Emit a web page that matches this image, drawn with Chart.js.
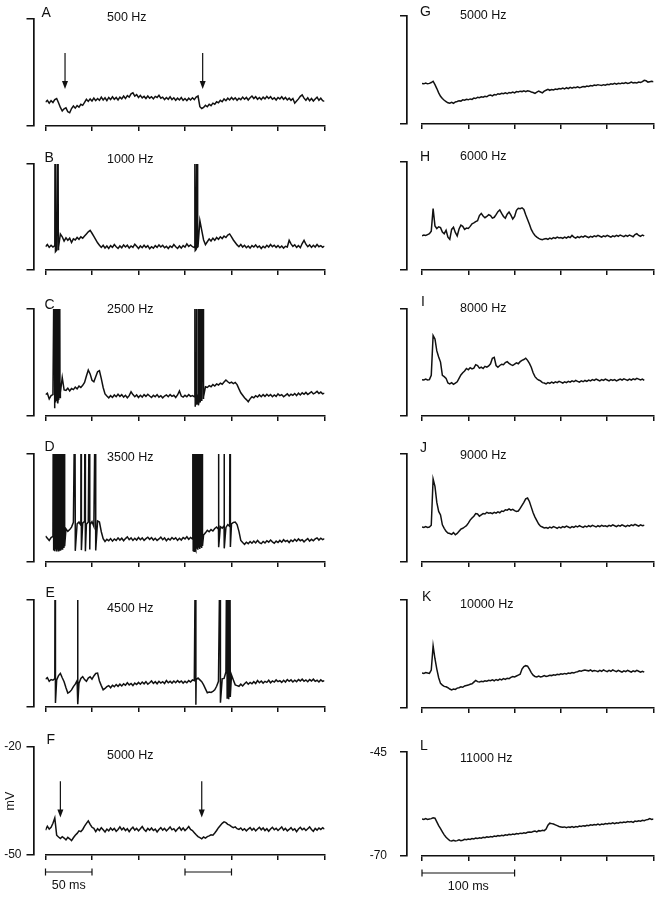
<!DOCTYPE html>
<html>
<head>
<meta charset="utf-8">
<script src="https://cdn.jsdelivr.net/npm/chart.js@4.4.1/dist/chart.umd.min.js"></script>
<style>
  body { margin: 0; background: #fff; width: 660px; height: 899px; position: relative; overflow: hidden; }
  canvas { position: absolute; }
</style>
</head>
<body>
<script>
// ---- data (mV, sampled every 2 ms) ----
const sampleStep = 2;
const spikePeak = 0;
const leftRange = [-50, -20];
const rightRange = [-70, -45];
const leftLetters = ['A', 'B', 'C', 'D', 'E', 'F'];
const rightLetters = ['G', 'H', 'I', 'J', 'K', 'L'];
const leftFreqs = ['500 Hz', '1000 Hz', '2500 Hz', '3500 Hz', '4500 Hz', '5000 Hz'];
const rightFreqs = ['5000 Hz', '6000 Hz', '8000 Hz', '9000 Hz', '10000 Hz', '11000 Hz'];
const arrowTimesA = [21, 169];
const arrowTimesF = [16, 168];
const arrowSpan = [-29.5, -39.6];
const scaleBarsF = [[0, 50], [150, 200]];
const scaleBarsL = [[0, 100]];

const traceA = [
  -43.3,-42.8,-43.6,-42.9,-43.4,-42.6,-42.3,-43.5,-44.8,-45.8,
  -45.2,-44.9,-46.0,-46.3,-45.1,-44.4,-45.0,-44.3,-44.7,-43.9,
  -44.2,-43.4,-42.5,-43.1,-42.4,-43.0,-42.2,-42.9,-42.3,-42.8,
  -41.9,-42.7,-42.1,-42.9,-42.0,-42.6,-41.8,-42.5,-42.0,-42.7,
  -41.9,-42.4,-41.6,-42.3,-41.5,-41.9,-41.0,-40.7,-41.6,-41.2,
  -42.0,-41.4,-42.1,-41.7,-42.3,-41.6,-42.2,-41.8,-42.4,-41.7,
  -42.0,-41.4,-42.2,-41.9,-42.6,-42.0,-42.5,-41.8,-42.6,-42.1,
  -42.8,-42.2,-42.7,-42.0,-42.8,-42.3,-42.9,-42.2,-42.7,-42.1,
  -42.6,-41.9,-41.6,-44.6,-45.1,-44.8,-44.2,-44.6,-43.9,-44.3,
  -43.6,-43.9,-43.2,-43.5,-42.8,-43.2,-42.4,-42.9,-42.2,-42.7,
  -42.0,-42.6,-42.1,-42.8,-42.2,-42.6,-41.9,-42.5,-42.0,-42.7,
  -42.1,-41.6,-42.3,-41.8,-42.5,-42.0,-42.6,-41.9,-42.4,-41.7,
  -42.3,-41.8,-42.5,-42.1,-42.7,-42.0,-42.4,-41.8,-42.5,-42.0,
  -42.7,-42.2,-42.8,-42.3,-43.6,-43.0,-42.4,-41.7,-41.3,-42.2,
  -42.8,-42.1,-42.9,-42.3,-43.0,-42.4,-41.9,-42.8,-42.2,-42.9,
  -43.1
];
const traceB = [
  -43.4,-42.8,-43.6,-43.0,-43.5,-43.1,-44.4,-43.6,-39.8,-40.6,
  -41.8,-40.9,-41.6,-41.0,-42.2,-41.2,-41.5,-40.8,-41.3,-40.6,
  -41.0,-40.4,-39.8,-39.2,-38.8,-39.6,-40.5,-41.4,-42.3,-43.0,
  -43.6,-43.0,-43.8,-43.2,-43.9,-43.1,-43.6,-42.8,-43.4,-43.9,
  -43.2,-43.7,-42.9,-43.5,-43.0,-43.8,-43.2,-43.6,-42.7,-43.3,
  -43.9,-43.2,-43.7,-43.0,-43.6,-43.1,-44.0,-43.4,-43.8,-43.1,
  -43.6,-42.9,-43.5,-43.0,-43.7,-43.3,-43.9,-43.2,-43.6,-42.8,
  -43.4,-43.9,-43.2,-43.8,-43.1,-43.5,-42.6,-43.3,-42.9,-43.4,
  -43.6,-44.2,-43.4,-36.0,-38.8,-41.5,-42.8,-42.0,-41.2,-41.8,
  -41.0,-41.6,-40.8,-41.3,-40.6,-41.1,-40.4,-40.8,-40.1,-39.8,
  -40.6,-41.5,-42.2,-42.9,-43.4,-42.8,-43.5,-43.0,-43.7,-43.2,
  -43.8,-43.1,-43.5,-42.9,-43.6,-43.2,-43.9,-43.3,-43.7,-43.0,
  -43.5,-42.8,-43.4,-43.0,-43.6,-43.1,-43.7,-43.2,-43.8,-43.3,
  -43.5,-41.6,-42.6,-43.3,-42.9,-43.6,-43.1,-43.7,-42.5,-41.6,
  -42.7,-43.4,-42.9,-43.6,-43.0,-43.5,-42.8,-43.4,-43.1,-43.6,
  -43.2
];
const traceC = [
  -44.0,-43.6,-45.2,-44.3,-44.0,-44.6,-44.8,-44.2,-43.5,-39.2,
  -42.7,-42.8,-42.2,-43.0,-42.3,-42.6,-41.9,-42.4,-41.6,-42.0,
  -41.4,-40.6,-38.8,-37.1,-38.2,-40.0,-40.4,-39.0,-37.6,-37.3,
  -39.5,-42.0,-43.8,-44.4,-44.9,-44.3,-44.8,-44.1,-44.6,-43.9,
  -44.5,-44.0,-44.7,-44.2,-44.9,-44.3,-43.2,-44.0,-44.6,-44.1,
  -44.8,-44.2,-44.7,-44.0,-44.5,-43.9,-44.4,-44.8,-44.2,-44.6,
  -44.0,-44.7,-44.3,-44.9,-44.4,-44.1,-44.6,-44.0,-44.5,-44.2,
  -44.8,-44.1,-43.0,-44.4,-44.7,-44.2,-44.6,-44.0,-44.5,-44.3,
  -44.6,-44.0,-44.4,-44.8,-44.3,-44.6,-41.8,-42.0,-41.5,-41.8,
  -41.2,-41.6,-41.0,-41.3,-40.8,-41.1,-40.5,-39.9,-40.4,-40.8,
  -40.5,-40.9,-40.6,-41.2,-42.4,-43.5,-44.2,-44.9,-45.4,-46.0,
  -45.2,-44.6,-44.9,-44.3,-44.7,-44.1,-44.6,-44.0,-44.5,-43.9,
  -44.4,-44.0,-44.6,-44.1,-44.5,-43.8,-44.3,-44.0,-44.6,-44.2,
  -43.8,-44.4,-43.9,-44.2,-43.7,-44.3,-43.6,-44.1,-43.5,-43.9,
  -43.4,-44.0,-43.6,-43.2,-43.8,-43.5,-43.1,-43.7,-43.3,-43.8,
  -43.6
];
const traceD = [
  -42.8,-43.4,-44.0,-43.2,-42.9,-43.5,-42.6,-43.0,-42.2,-41.8,
  -41.2,-40.8,-41.5,-41.0,-40.3,-39.0,-38.6,-39.4,-38.9,-39.8,
  -39.2,-38.7,-39.5,-38.9,-39.6,-38.8,-40.1,-39.3,-38.6,-38.9,
  -41.6,-43.5,-44.3,-43.7,-44.1,-43.5,-44.2,-43.6,-44.0,-43.3,
  -43.9,-43.4,-44.1,-43.5,-43.0,-43.8,-43.3,-44.0,-43.4,-43.9,
  -43.2,-43.8,-43.3,-44.0,-43.5,-43.1,-43.7,-43.2,-43.9,-43.4,
  -44.0,-43.6,-43.1,-43.8,-43.3,-44.1,-43.5,-43.9,-43.2,-43.7,
  -43.3,-44.0,-43.4,-43.9,-43.2,-43.6,-43.0,-43.7,-43.2,-43.6,
  -43.4,-43.0,-42.6,-42.2,-41.8,-42.5,-41.9,-41.2,-41.6,-41.0,
  -41.4,-40.7,-40.3,-40.9,-40.2,-40.6,-39.9,-40.4,-39.6,-40.1,
  -39.4,-39.0,-38.9,-39.6,-41.5,-44.0,-44.6,-45.1,-44.5,-44.9,
  -44.3,-44.8,-44.2,-44.7,-44.0,-44.6,-44.9,-44.3,-44.7,-44.1,
  -44.5,-43.9,-44.4,-44.8,-44.2,-44.6,-44.0,-44.5,-43.8,-44.3,
  -44.0,-44.6,-43.9,-44.3,-43.7,-44.2,-43.6,-44.1,-43.8,-44.4,
  -43.9,-43.5,-44.2,-43.7,-44.1,-43.6,-43.3,-43.9,-43.4,-43.8,
  -43.5
];
const traceE = [
  -42.2,-41.8,-42.8,-42.3,-42.5,-42.0,-42.4,-41.2,-40.6,-41.8,
  -42.9,-44.6,-46.1,-45.8,-45.2,-44.3,-43.6,-42.6,-43.3,-42.0,
  -41.5,-42.3,-42.8,-41.9,-41.5,-42.2,-41.3,-40.6,-40.5,-42.7,
  -44.0,-45.2,-44.8,-44.3,-44.0,-44.6,-43.9,-44.3,-43.7,-44.2,
  -43.6,-44.1,-43.5,-43.9,-43.2,-43.8,-43.4,-44.0,-43.3,-43.7,
  -43.1,-43.6,-43.0,-43.5,-42.9,-43.6,-43.2,-42.7,-43.4,-42.9,
  -43.5,-42.8,-43.3,-42.9,-43.4,-42.6,-43.2,-42.8,-43.3,-42.7,
  -43.2,-42.6,-43.1,-42.7,-43.3,-42.8,-43.2,-42.6,-43.0,-42.4,
  -42.6,-42.3,-41.9,-42.4,-42.9,-43.8,-44.9,-46.0,-45.8,-45.9,
  -45.6,-45.2,-44.2,-42.8,-41.7,-42.1,-42.0,-40.2,-40.6,-40.8,
  -41.0,-42.4,-43.8,-44.0,-44.2,-43.6,-44.1,-43.5,-43.0,-43.6,
  -43.1,-43.5,-42.9,-43.4,-42.6,-43.2,-42.7,-43.3,-42.8,-43.1,
  -42.5,-43.2,-42.7,-43.0,-42.4,-42.9,-42.6,-43.1,-42.5,-43.0,
  -42.3,-42.8,-42.4,-43.0,-42.5,-42.9,-42.3,-42.7,-42.2,-42.8,
  -42.4,-42.9,-42.3,-42.7,-42.2,-42.8,-42.5,-43.0,-42.4,-42.8,
  -42.6
];
const traceF = [
  -43.1,-42.0,-42.8,-42.3,-41.2,-39.7,-44.5,-45.0,-45.4,-44.9,
  -45.3,-45.8,-45.1,-45.5,-46.0,-45.2,-44.5,-44.0,-43.3,-43.5,
  -42.9,-42.0,-41.2,-40.5,-41.5,-42.3,-42.6,-43.5,-42.7,-43.2,
  -42.4,-43.0,-43.6,-42.8,-43.3,-42.5,-43.1,-42.6,-43.4,-42.9,
  -42.2,-43.0,-42.5,-43.2,-42.7,-43.5,-42.8,-42.3,-43.1,-42.6,
  -43.3,-42.7,-42.1,-42.9,-43.4,-42.6,-43.1,-42.5,-43.2,-42.8,
  -43.6,-42.9,-42.4,-43.1,-42.6,-43.3,-42.8,-42.2,-43.0,-42.7,
  -43.4,-42.8,-42.3,-43.1,-42.5,-43.2,-42.7,-42.1,-42.9,-43.2,
  -43.8,-44.4,-44.9,-45.2,-45.5,-45.0,-45.3,-44.9,-44.7,-44.4,
  -44.5,-43.9,-43.2,-42.4,-41.8,-41.2,-40.8,-41.0,-41.5,-41.7,
  -42.1,-42.4,-42.2,-42.7,-42.9,-42.5,-43.1,-42.7,-43.3,-42.8,
  -42.4,-43.1,-42.6,-43.3,-42.8,-42.3,-43.0,-42.5,-43.2,-42.7,
  -43.4,-42.8,-42.3,-43.0,-42.6,-43.2,-42.7,-42.2,-43.1,-42.6,
  -43.3,-42.9,-42.4,-43.1,-42.7,-43.5,-42.8,-42.3,-43.0,-42.6,
  -43.2,-42.7,-42.2,-42.9,-43.4,-42.6,-43.1,-42.5,-42.9,-42.4,
  -42.8
];
const traceG = [
  -60.6,-60.7,-60.5,-60.7,-60.6,-60.4,-60.1,-60.9,-61.8,-62.8,
  -63.6,-64.1,-64.5,-64.8,-65.1,-65.2,-65.0,-65.2,-64.9,-64.8,
  -64.6,-64.7,-64.4,-64.5,-64.3,-64.4,-64.2,-64.3,-64.0,-64.1,
  -63.8,-63.9,-63.7,-63.8,-63.6,-63.7,-63.4,-63.3,-63.5,-63.2,
  -63.3,-63.0,-63.1,-62.9,-63.0,-62.8,-63.0,-62.7,-62.8,-62.6,
  -62.8,-62.5,-62.6,-62.4,-62.5,-62.3,-62.5,-62.3,-62.4,-62.6,
  -62.7,-62.9,-62.6,-62.4,-62.6,-62.8,-62.4,-62.2,-62.0,-62.2,
  -62.0,-62.1,-61.9,-62.0,-61.8,-61.9,-61.7,-61.9,-61.6,-61.8,
  -61.5,-61.7,-61.5,-61.6,-61.4,-61.6,-61.5,-61.3,-61.4,-61.2,
  -61.3,-61.1,-61.2,-61.0,-61.1,-60.9,-61.0,-61.1,-60.9,-61.0,
  -60.8,-60.9,-60.7,-60.8,-60.6,-60.8,-60.6,-60.7,-60.5,-60.6,
  -60.4,-60.6,-60.5,-60.3,-60.5,-60.4,-60.5,-60.3,-60.4,-60.2,
  -59.9,-60.0,-60.3,-60.2,-60.1,-60.2
];
const traceH = [
  -62.1,-61.9,-62.0,-61.8,-61.6,-61.0,-55.8,-59.8,-60.4,-60.0,
  -60.2,-61.2,-61.6,-60.8,-62.4,-62.9,-60.6,-60.1,-61.3,-62.1,
  -60.5,-59.6,-59.9,-60.6,-60.3,-60.4,-59.9,-59.3,-59.1,-58.8,
  -58.6,-57.4,-56.9,-57.5,-57.9,-57.6,-57.2,-57.4,-58.0,-57.8,
  -57.2,-56.5,-56.1,-56.9,-57.6,-58.0,-57.1,-56.6,-57.3,-58.2,
  -57.6,-56.2,-55.7,-55.8,-55.6,-56.0,-57.2,-58.3,-59.4,-60.6,
  -61.4,-62.0,-62.4,-62.7,-62.9,-63.0,-62.8,-62.7,-62.9,-62.6,
  -62.8,-62.5,-62.7,-62.4,-62.6,-62.5,-62.7,-62.4,-62.6,-62.3,
  -62.5,-62.0,-62.4,-62.6,-62.3,-62.5,-62.2,-62.4,-62.1,-62.3,
  -62.5,-62.2,-62.4,-62.1,-62.3,-62.0,-62.2,-62.4,-62.1,-62.3,
  -62.0,-62.2,-62.4,-62.1,-62.3,-62.0,-62.2,-61.9,-62.1,-62.3,
  -62.0,-62.2,-61.9,-62.1,-62.3,-61.8,-61.6,-62.0,-62.2,-61.9,
  -62.1
];
const traceI = [
  -61.5,-61.6,-61.4,-61.6,-61.5,-60.5,-51.2,-52.0,-54.8,-56.2,
  -57.4,-60.5,-60.8,-61.2,-62.3,-62.5,-62.2,-62.6,-62.3,-62.0,
  -61.2,-60.4,-59.9,-59.5,-58.9,-59.2,-58.7,-59.0,-58.8,-58.0,
  -58.2,-58.8,-58.6,-58.9,-58.4,-58.6,-58.3,-57.8,-56.5,-56.3,
  -58.2,-58.6,-58.2,-57.9,-58.0,-57.5,-57.3,-57.7,-58.0,-58.2,
  -57.9,-57.6,-57.8,-57.3,-57.0,-56.8,-56.5,-57.0,-57.7,-58.6,
  -59.9,-60.8,-61.3,-61.6,-61.8,-62.2,-62.3,-62.5,-62.2,-62.4,
  -62.1,-62.3,-62.0,-62.2,-61.9,-62.1,-62.3,-62.0,-62.2,-61.9,
  -62.1,-61.8,-62.0,-61.7,-61.9,-62.1,-61.8,-62.0,-61.7,-61.9,
  -61.6,-61.8,-61.5,-61.7,-61.4,-61.6,-61.8,-61.5,-61.7,-61.4,
  -61.6,-61.8,-61.5,-61.7,-61.5,-61.8,-61.6,-61.4,-61.6,-61.3,
  -61.5,-61.7,-61.4,-61.6,-61.3,-61.5,-61.2,-61.4,-61.6,-61.4,
  -61.7
];
const traceJ = [
  -61.9,-62.0,-61.8,-62.0,-61.9,-61.5,-50.8,-52.5,-56.2,-58.3,
  -59.1,-61.4,-62.2,-62.9,-63.3,-63.4,-63.6,-63.2,-63.7,-63.4,
  -62.9,-62.4,-62.2,-61.9,-61.6,-61.0,-60.3,-59.8,-59.4,-58.8,
  -58.9,-59.4,-59.1,-58.8,-58.9,-58.5,-58.7,-58.6,-58.8,-58.5,
  -58.7,-58.4,-58.6,-58.2,-58.3,-57.9,-58.0,-57.7,-58.0,-57.8,
  -58.1,-58.3,-58.2,-57.6,-56.9,-56.2,-55.4,-55.2,-56.0,-57.3,
  -58.6,-59.6,-60.4,-61.2,-61.7,-61.9,-62.1,-62.0,-62.2,-61.9,
  -62.1,-61.8,-62.0,-62.2,-61.9,-62.1,-61.8,-62.0,-61.7,-61.9,
  -62.1,-61.8,-62.0,-61.7,-61.9,-61.6,-61.8,-62.0,-61.7,-61.9,
  -61.6,-61.8,-61.5,-61.7,-61.9,-61.6,-61.8,-61.5,-61.7,-61.6,
  -61.8,-61.5,-61.7,-61.4,-61.6,-61.8,-61.5,-61.7,-61.4,-61.6,
  -61.8,-61.5,-61.7,-61.4,-61.6,-61.3,-61.5,-61.7,-61.4,-61.6,
  -61.5
];
const traceK = [
  -61.9,-62.0,-61.8,-61.9,-62.0,-61.2,-55.6,-58.6,-61.0,-63.0,
  -64.3,-64.7,-65.0,-65.1,-65.3,-65.6,-65.8,-65.6,-65.7,-65.4,
  -65.3,-65.1,-65.2,-64.9,-64.8,-64.7,-64.5,-64.4,-64.0,-63.6,
  -63.9,-64.0,-63.8,-63.9,-63.7,-63.8,-63.6,-63.7,-63.5,-63.7,
  -63.4,-63.6,-63.3,-63.5,-63.2,-63.4,-63.1,-63.2,-62.9,-62.7,
  -62.8,-62.6,-62.4,-62.2,-61.0,-60.4,-60.2,-60.3,-61.0,-61.8,
  -62.4,-62.7,-62.8,-62.6,-62.8,-62.7,-62.5,-62.7,-62.6,-62.4,
  -62.5,-62.3,-62.4,-62.2,-62.3,-62.1,-62.2,-62.0,-62.1,-61.9,
  -62.0,-61.8,-61.9,-61.7,-61.6,-61.4,-61.5,-61.3,-61.2,-61.3,
  -61.4,-61.2,-61.5,-61.3,-61.4,-61.6,-61.3,-61.5,-61.2,-61.4,
  -61.6,-61.3,-61.5,-61.2,-61.4,-61.6,-61.3,-61.5,-61.7,-61.4,
  -61.6,-61.3,-61.5,-61.7,-61.4,-61.6,-61.3,-61.5,-61.7,-61.5,
  -61.7
];
const traceL = [
  -61.1,-61.2,-61.0,-61.2,-61.1,-61.0,-60.8,-60.9,-61.8,-62.7,
  -63.4,-64.2,-64.9,-65.5,-65.9,-66.3,-66.4,-66.2,-66.4,-66.3,
  -66.1,-66.3,-66.2,-66.0,-66.1,-65.9,-66.0,-65.8,-65.9,-65.7,
  -65.8,-65.6,-65.7,-65.5,-65.6,-65.4,-65.5,-65.3,-65.4,-65.2,
  -65.3,-65.1,-65.2,-65.0,-65.1,-64.9,-65.0,-64.8,-64.9,-64.7,
  -64.8,-64.6,-64.7,-64.5,-64.6,-64.4,-64.5,-64.3,-64.2,-64.3,
  -64.1,-64.0,-64.2,-63.9,-64.0,-63.8,-63.9,-63.5,-62.6,-62.1,
  -62.2,-62.3,-62.5,-62.7,-62.9,-63.0,-63.1,-63.0,-63.2,-63.0,
  -63.1,-62.9,-63.1,-62.9,-63.0,-62.8,-62.9,-62.7,-62.8,-62.6,
  -62.7,-62.5,-62.6,-62.4,-62.5,-62.3,-62.5,-62.3,-62.4,-62.2,
  -62.3,-62.1,-62.2,-62.0,-62.2,-62.0,-62.1,-61.9,-62.0,-61.8,
  -61.9,-61.7,-61.8,-61.7,-61.9,-61.6,-61.7,-61.5,-61.6,-61.4,
  -61.5,-61.3,-61.2,-61.0,-61.2,-61.1
];

// spikes: [time ms, trough mV]
const spikesB = [[10.3, -44.8], [13.4, -44.2], [160.6, -44.5], [163.2, -43.5]];
const spikesC = [[9.4, -47.8], [10.6, -46.2], [11.7, -45.8], [12.8, -46.5], [14.0, -45.5], [15.2, -44.8],
  [160.6, -47.4], [162.3, -46.8], [164.2, -47.0], [166.0, -46.2], [167.7, -45.8], [169.4, -45.2]];
const spikesD = [[8.4, -46.8], [9.4, -47.0], [10.4, -46.5], [11.4, -47.1], [12.4, -46.6], [13.4, -46.9],
  [14.4, -46.3], [15.4, -46.7], [16.4, -46.0], [17.4, -46.4], [18.4, -45.8], [19.4, -46.1], [20.4, -45.6],
  [31.6, -46.9], [38.2, -46.7], [42.5, -47.0], [47.2, -46.5], [53.6, -46.8],
  [158.4, -46.8], [159.4, -47.0], [160.4, -46.5], [161.4, -46.9], [162.4, -46.3], [163.4, -46.6],
  [164.4, -46.0], [165.4, -46.4], [166.4, -45.8], [167.4, -46.1], [168.4, -45.5],
  [186.0, -45.9], [192.0, -46.2], [198.4, -45.8]];
const spikesE = [[10.3, -48.9], [34.5, -49.2], [161.3, -49.4], [187.8, -48.8], [194.9, -47.5], [196.6, -47.8], [198.3, -47.2]];

// ---- layout ----
const ink = '#111';
Chart.defaults.font.family = '"Liberation Sans", Arial, Helvetica, sans-serif';
Chart.defaults.color = ink;

const columns = {
  left: { canvasX: 0, width: 340, barX: 33.5, gap: 12, padRight: 15.5, xMax: 300, range: leftRange, labelPad: 5, freqDx: 61.5 },
  right: { canvasX: 350, width: 310, barX: 57, gap: 15, padRight: 6.5, xMax: 250, range: rightRange, labelPad: 13, freqDx: 38 }
};

const panels = [
  { col: 'left', letter: leftLetters[0], freq: leftFreqs[0], top: 19, bottom: 126, trace: traceA, letterDx: -4, letterDy: -6, freqDy: -1, arrows: arrowTimesA },
  { col: 'left', letter: leftLetters[1], freq: leftFreqs[1], top: 164, bottom: 270, trace: traceB, spikes: spikesB, letterDx: -1, letterDy: -6, freqDy: -4.5 },
  { col: 'left', letter: leftLetters[2], freq: leftFreqs[2], top: 309, bottom: 416, trace: traceC, spikes: spikesC, letterDx: -1, letterDy: -4, freqDy: 1 },
  { col: 'left', letter: leftLetters[3], freq: leftFreqs[3], top: 454, bottom: 562, trace: traceD, spikes: spikesD, letterDx: -1, letterDy: -7, freqDy: 4 },
  { col: 'left', letter: leftLetters[4], freq: leftFreqs[4], top: 600, bottom: 707, trace: traceE, spikes: spikesE, letterDx: 0, letterDy: -7, freqDy: 9 },
  { col: 'left', letter: leftLetters[5], freq: leftFreqs[5], top: 747, bottom: 855, trace: traceF, letterDx: 1, letterDy: -7, freqDy: 9, arrows: arrowTimesF, bars: scaleBarsF, barLabel: '50 ms', axisLabels: true, title: 'mV' },
  { col: 'right', letter: rightLetters[0], freq: rightFreqs[0], top: 16, bottom: 124, trace: traceG, letterDx: -2, letterDy: -4, freqDy: 0 },
  { col: 'right', letter: rightLetters[1], freq: rightFreqs[1], top: 162, bottom: 270, trace: traceH, letterDx: -2, letterDy: -5, freqDy: -5 },
  { col: 'right', letter: rightLetters[2], freq: rightFreqs[2], top: 309, bottom: 416, trace: traceI, letterDx: -1, letterDy: -6.5, freqDy: 0 },
  { col: 'right', letter: rightLetters[3], freq: rightFreqs[3], top: 454, bottom: 562, trace: traceJ, letterDx: -2, letterDy: -6, freqDy: 2 },
  { col: 'right', letter: rightLetters[4], freq: rightFreqs[4], top: 600, bottom: 708, trace: traceK, letterDx: 0, letterDy: -3, freqDy: 5 },
  { col: 'right', letter: rightLetters[5], freq: rightFreqs[5], top: 748, bottom: 856, trace: traceL, letterDx: -2, letterDy: -6, freqDy: 6, bars: scaleBarsL, barLabel: '100 ms', axisLabels: true }
];

function buildPoints(trace, spikes) {
  const pts = trace.map((v, i) => ({ x: i * sampleStep, y: v }));
  (spikes || []).forEach(([t, trough]) => {
    pts.push({ x: t, y: spikePeak }, { x: t + 0.4, y: trough });
  });
  pts.sort((p, q) => p.x - q.x);
  return pts;
}

// letters, frequency labels, stimulus arrows and time scale bars
const panelDecor = {
  id: 'panelDecor',
  afterDraw(chart, args, o) {
    const { ctx, chartArea: a, scales: { x, y } } = chart;
    ctx.save();
    ctx.fillStyle = ink;
    ctx.strokeStyle = ink;
    ctx.textBaseline = 'middle';
    ctx.textAlign = 'left';
    ctx.font = '14px "Liberation Sans", Arial, sans-serif';
    ctx.fillText(o.letter, a.left + o.letterDx, a.top + o.letterDy);
    ctx.font = '12.5px "Liberation Sans", Arial, sans-serif';
    ctx.fillText(o.freq, a.left + o.freqDx, a.top + o.freqDy);

    ctx.lineWidth = 1.2;
    (o.arrows || []).forEach(t => {
      const ax = x.getPixelForValue(t);
      const y0 = y.getPixelForValue(arrowSpan[0]);
      const y1 = y.getPixelForValue(arrowSpan[1]);
      ctx.beginPath();
      ctx.moveTo(ax, y0);
      ctx.lineTo(ax, y1 - 6);
      ctx.stroke();
      ctx.beginPath();
      ctx.moveTo(ax - 3, y1 - 8);
      ctx.lineTo(ax + 3, y1 - 8);
      ctx.lineTo(ax, y1);
      ctx.closePath();
      ctx.fill();
    });

    const by = a.bottom + 17;
    (o.bars || []).forEach(([t0, t1]) => {
      const x0 = x.getPixelForValue(t0), x1 = x.getPixelForValue(t1);
      ctx.beginPath();
      ctx.moveTo(x0, by); ctx.lineTo(x1, by);
      ctx.moveTo(x0, by - 3.5); ctx.lineTo(x0, by + 3.5);
      ctx.moveTo(x1, by - 3.5); ctx.lineTo(x1, by + 3.5);
      ctx.stroke();
    });
    if (o.barLabel) {
      const [t0, t1] = o.bars[0];
      ctx.textAlign = 'center';
      ctx.font = '12.5px "Liberation Sans", Arial, sans-serif';
      ctx.fillText(o.barLabel, (x.getPixelForValue(t0) + x.getPixelForValue(t1)) / 2, a.bottom + 31);
    }
    ctx.restore();
  }
};

panels.forEach(p => {
  const c = columns[p.col];
  const padTop = 16;
  const padBottom = p.bars ? 40 : 4;
  const canvas = document.createElement('canvas');
  canvas.width = c.width;
  canvas.height = padTop + (p.bottom - p.top) + 6 + padBottom;
  canvas.style.left = c.canvasX + 'px';
  canvas.style.top = (p.top - padTop) + 'px';
  document.body.appendChild(canvas);

  new Chart(canvas, {
    type: 'line',
    data: {
      datasets: [{
        data: buildPoints(p.trace, p.spikes),
        borderColor: ink,
        borderWidth: 1.5,
        pointRadius: 0,
        tension: 0,
        fill: false
      }]
    },
    options: {
      responsive: false,
      animation: false,
      devicePixelRatio: 1,
      events: [],
      layout: { padding: { left: 0, right: c.padRight, top: padTop, bottom: padBottom } },
      plugins: {
        legend: { display: false },
        tooltip: { enabled: false },
        panelDecor: {
          letter: p.letter, freq: p.freq,
          letterDx: p.letterDx, letterDy: p.letterDy,
          freqDx: c.freqDx, freqDy: p.freqDy,
          arrows: p.arrows, bars: p.bars, barLabel: p.barLabel
        }
      },
      scales: {
        x: {
          type: 'linear', min: 0, max: c.xMax,
          border: { display: true, color: ink, width: 1.5 },
          grid: { drawOnChartArea: false, drawTicks: true, tickLength: 5, color: ink, lineWidth: 1.5 },
          ticks: { display: false, stepSize: 50 },
          afterFit: s => { s.height = 6; }
        },
        y: {
          type: 'linear', position: 'left', weight: 0, min: c.range[0], max: c.range[1],
          display: true,
          grid: { display: false },
          border: { display: false },
          ticks: { display: false },
          afterFit: s => { s.width = c.gap; }
        },
        yb: {
          type: 'linear', position: 'left', weight: 1, min: c.range[0], max: c.range[1],
          display: true,
          border: { display: true, color: ink, width: 1.7 },
          grid: { drawOnChartArea: false, drawTicks: true, tickLength: 7, color: ink, lineWidth: 1.5 },
          ticks: { display: !!p.axisLabels, padding: c.labelPad, color: ink, font: { size: 12 } },
          title: { display: !!p.title, text: p.title || '', color: ink, font: { size: 12.5 }, padding: { top: 3, bottom: 0 } },
          afterBuildTicks: s => { s.ticks = c.range.map(v => ({ value: v })); },
          afterFit: s => { s.width = c.barX; }
        }
      }
    },
    plugins: [panelDecor]
  });
});
</script>
</body>
</html>
